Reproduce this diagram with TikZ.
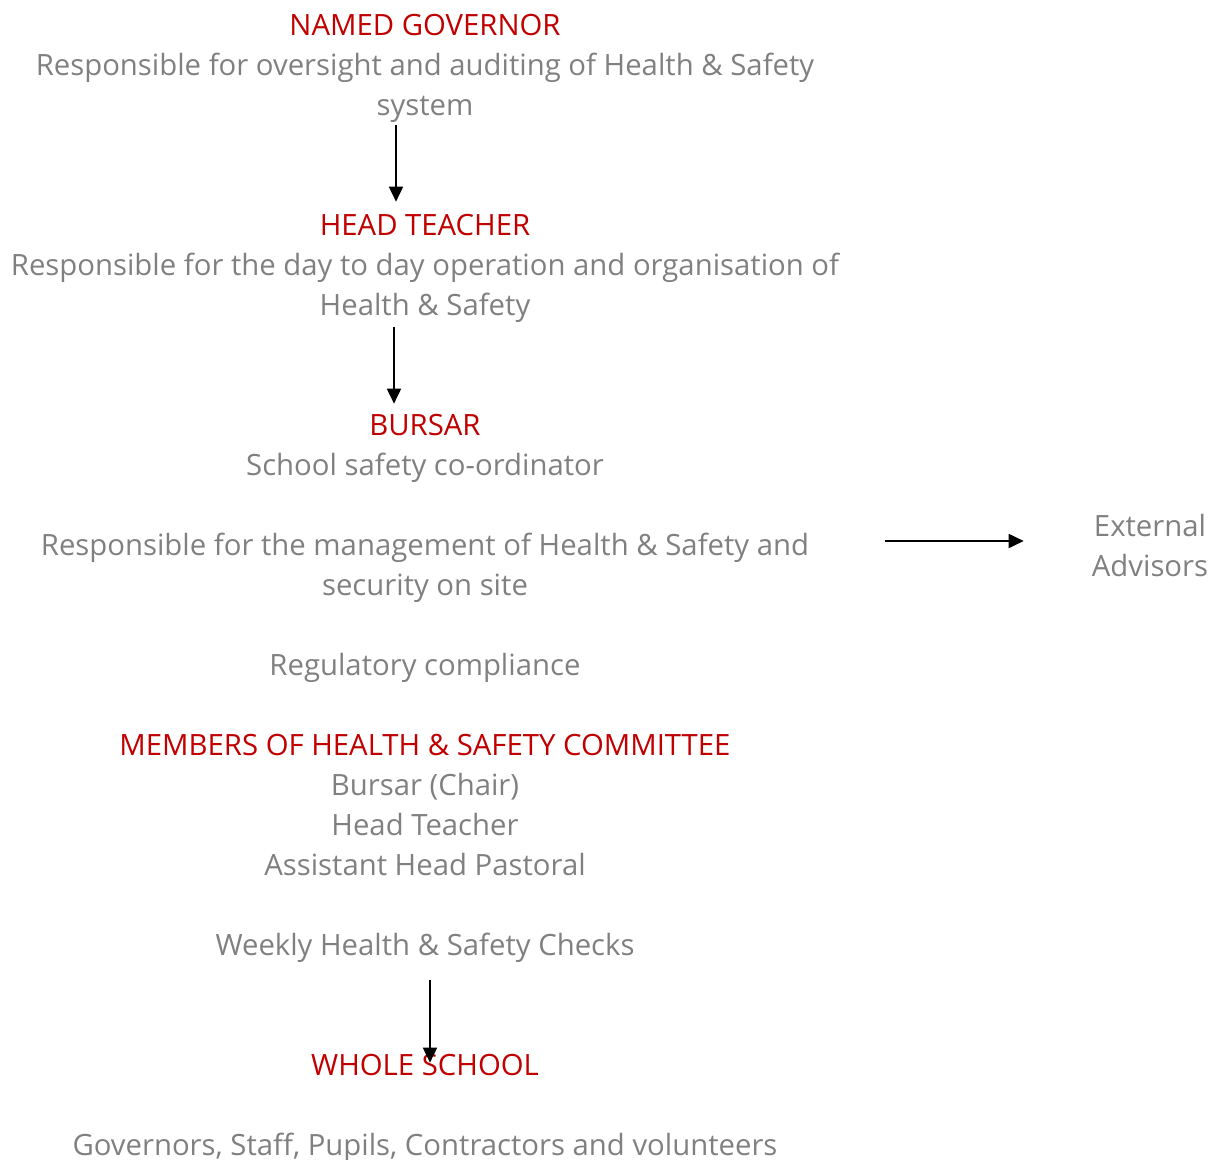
\documentclass[tikz,border=0pt]{standalone}
\usepackage{fontspec}
\setmainfont{Open Sans}
\usetikzlibrary{arrows.meta, positioning}
\definecolor{titlered}{HTML}{C00000}
\definecolor{textgrey}{HTML}{808080}
\newcommand{\role}[1]{{\color{titlered}#1}}

\begin{document}
\begin{tikzpicture}[x=1pt, y=-1pt,
    block/.style={shape=rectangle, inner sep=0pt, align=center, text=textgrey,
      font=\fontsize{29.3}{40}\selectfont},
    arr/.style={-{Triangle[length=15pt, width=14pt]}, line width=1.8pt}]
    \useasboundingbox (0,0) rectangle (1211,1160);

    \node[block] (gov) at (425,68) {\role{NAMED GOVERNOR}\\
      Responsible for oversight and auditing of Health \& Safety\\ system};
    \node[block] (head) at (425,268) {\role{HEAD TEACHER}\\
      Responsible for the day to day operation and organisation of\\ Health \& Safety};
    \node[block] (bursar) at (425,548) {\role{BURSAR}\\ School safety co-ordinator\\[40pt]
      Responsible for the management of Health \& Safety and\\ security on site\\[40pt]
      Regulatory compliance};
    \node[block] (committee) at (425,848) {\role{MEMBERS OF HEALTH \& SAFETY COMMITTEE}\\
      Bursar (Chair)\\ Head Teacher\\ Assistant Head Pastoral\\[40pt]
      Weekly Health \& Safety Checks};
    \node[block] (school) at (425,1108) {\role{WHOLE SCHOOL}\\[40pt]
      Governors, Staff, Pupils, Contractors and volunteers};
    \node[block] (advisors) at (1150,546) {External\\ Advisors};

    \draw[arr] ([xshift=-29pt, yshift=-3pt]gov.south) -- ([xshift=-29pt, yshift=12pt]head.north);
    \draw[arr] ([xshift=-31pt, yshift=-5pt]head.south) -- ([xshift=-31pt, yshift=10pt]bursar.north);
    \draw[arr] ([xshift=76pt, yshift=7pt]bursar.east) -- ([xshift=-68pt, yshift=5pt]advisors.west);
    \draw[arr] ([xshift=5pt, yshift=-18pt]committee.south) -- ([xshift=5pt, yshift=-9pt]school.north);
\end{tikzpicture}
\end{document}
